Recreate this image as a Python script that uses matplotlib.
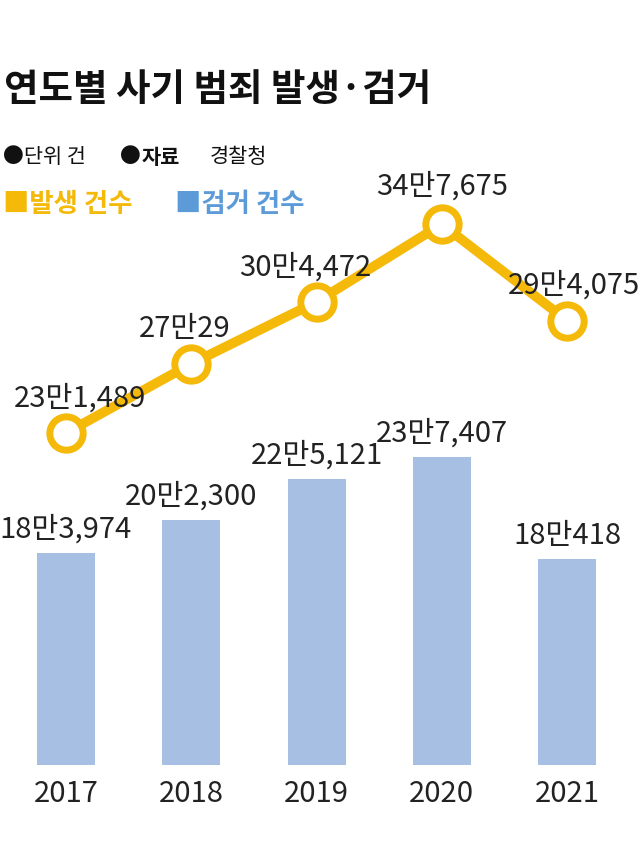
import matplotlib
matplotlib.use("Agg")
import matplotlib.pyplot as plt

plt.rcParams['font.family'] = ['Noto Sans CJK KR', 'DejaVu Sans']

years = ['2017', '2018', '2019', '2020', '2021']
occur = [231489, 270029, 304472, 347675, 294075]
occur_lbl = ['23만1,489', '27만29', '30만4,472', '34만7,675', '29만4,075']
arrest = [183974, 202300, 225121, 237407, 180418]
arrest_lbl = ['18만3,974', '20만2,300', '22만5,121', '23만7,407', '18만418']

YEL = '#F5B90A'
BAR = '#A6BFE3'
BLUE = '#5D9BD8'

fig = plt.figure(figsize=(6.4, 8.61), dpi=100)
W, H = 640, 861
ax = fig.add_axes([0, (H-765)/H, 1, 625/H])
x = list(range(5))
ax.bar(x, arrest, width=58/125.25, color=BAR)
ax.set_xlim(-66/125.25, 4 + 73/125.25)
ax.set_ylim(66000, 66000 + 625*556.5)
ax.axis('off')
for i, (v, l) in enumerate(zip(arrest, arrest_lbl)):
    ax.annotate(l, (i, v), xytext=(0, 6), textcoords='offset points',
                ha='center', va='bottom', fontsize=21, color='#222222')
    ax.annotate(years[i], (i, 66000), xytext=(0, -10), textcoords='offset points',
                ha='center', va='top', fontsize=21, color='#222222')

ax2 = ax.twinx()
ax2.set_ylim(46730, 46730 + 625*556.5)
ax2.plot(x, occur, color=YEL, lw=7, marker='o', ms=24, mfc='white',
         mec=YEL, mew=5, zorder=3, solid_capstyle='round')
ax2.axis('off')
offs = [(10, 14), (-5, 14), (-8, 14), (0, 16), (5, 14)]
for i, (v, l) in enumerate(zip(occur, occur_lbl)):
    ax2.annotate(l, (i, v), xytext=offs[i], textcoords='offset points',
                 ha='center', va='bottom', fontsize=21, color='#222222')

fig.text(4/W, 1-90/H, '연도별 사기 범죄 발생·검거', fontsize=27, fontweight='bold',
         va='center', color='#111111')
fig.text(3/W, 1-157/H, '●단위 건', fontsize=15, va='center', color='#111111')
fig.text(120/W, 1-157/H, '●', fontsize=15, va='center', color='#111111')
fig.text(142/W, 1-157/H, '자료', fontsize=15, fontweight='bold', va='center', color='#111111')
fig.text(210/W, 1-157/H, '경찰청', fontsize=15, va='center', color='#111111')
fig.text(3/W, 1-204/H, '■발생 건수', fontsize=19, fontweight='bold', va='center', color=YEL)
fig.text(175/W, 1-204/H, '■검거 건수', fontsize=19, fontweight='bold', va='center', color=BLUE)

fig.savefig('out.png', dpi=100)
